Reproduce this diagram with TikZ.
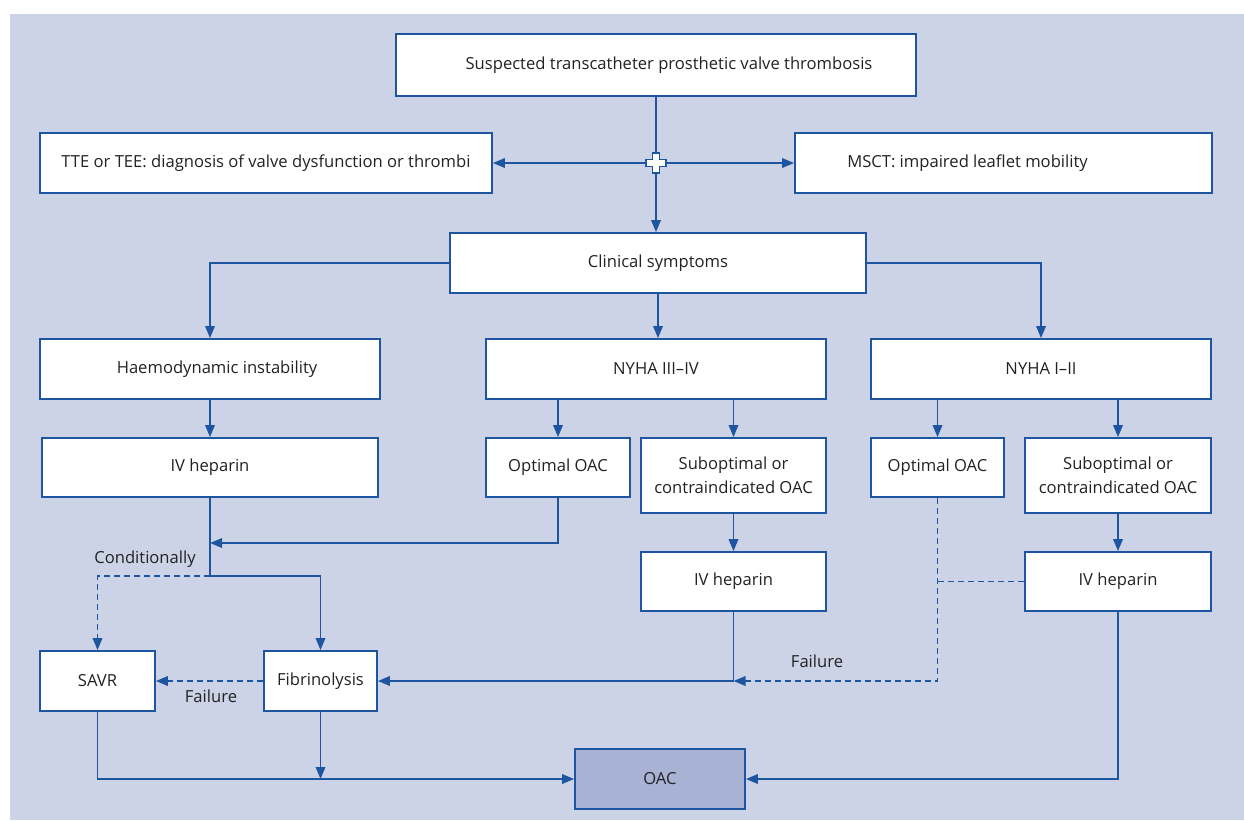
\documentclass[tikz,border=0pt]{standalone}
\usepackage{fontspec}
\setmainfont{Open Sans}
\usetikzlibrary{arrows.meta,calc}
\definecolor{bg}{HTML}{CDD3E7}
\definecolor{ln}{HTML}{1D55A0}
\definecolor{oacfill}{HTML}{A8B2D5}
\definecolor{txt}{HTML}{222222}
\begin{document}
\begin{tikzpicture}[x=1pt,y=-1pt,
  box/.style={draw=ln,line width=1.8pt,fill=white,inner sep=2pt,align=center,text=txt,font=\fontsize{16.6}{24}\selectfont},
  arr/.style={draw=ln,line width=1.8pt,-{Triangle[length=12pt,width=9.5pt]}},
  con/.style={draw=ln,line width=1.8pt},
  dsh/.style={dash pattern=on 6pt off 4pt},
  lbl/.style={text=txt,font=\fontsize{16.6}{18}\selectfont,inner sep=0pt}]
\useasboundingbox (0,0) rectangle (1244,820);
\fill[bg] (10,14) rectangle (1244,820);
% boxes
\node[box,minimum width=520pt,minimum height=62pt] (top) at (656,65) {\hspace*{26pt}\raisebox{-5pt}{Suspected transcatheter prosthetic valve thrombosis}};
\node[box,minimum width=452pt,minimum height=60pt] (tte) at (266,163) {TTE or TEE: diagnosis of valve dysfunction or thrombi};
\node[box,minimum width=417pt,minimum height=60pt] (msct) at (1003.5,163) {MSCT: impaired leaflet mobility\hspace*{72pt}};
\node[box,minimum width=416pt,minimum height=60pt] (clin) at (658,263) {Clinical symptoms};
\node[box,minimum width=340pt,minimum height=60pt] (haemo) at (210,369) {\hspace*{14pt}Haemodynamic instability};
\node[box,minimum width=340pt,minimum height=60pt] (nyha34) at (656,369) {NYHA III--IV};
\node[box,minimum width=340pt,minimum height=60pt] (nyha12) at (1041,369) {NYHA I--II};
\node[box,minimum width=336pt,minimum height=59pt] (ivh1) at (210,467.5) {IV heparin};
\node[box,minimum width=144pt,minimum height=59pt] (opt1) at (558,467.5) {Optimal OAC};
\node[box,minimum width=185pt,minimum height=75pt] (sub1) at (733.5,475.5) {Suboptimal or\\contraindicated OAC};
\node[box,minimum width=133pt,minimum height=59pt] (opt2) at (937.5,467.5) {Optimal OAC};
\node[box,minimum width=186pt,minimum height=75pt] (sub2) at (1118,475.5) {Suboptimal or\\contraindicated OAC};
\node[box,minimum width=185pt,minimum height=59pt] (ivh2) at (733.5,581.5) {IV heparin};
\node[box,minimum width=186pt,minimum height=59pt] (ivh3) at (1118,581.5) {IV heparin};
\node[box,minimum width=115pt,minimum height=60pt] (savr) at (97.5,681) {SAVR};
\node[box,minimum width=113pt,minimum height=60pt] (fib) at (320.5,681) {Fibrinolysis};
\node[box,fill=oacfill,minimum width=170pt,minimum height=60pt] (oac) at (660,779) {OAC};
% top connectors
\coordinate (cross) at (top.south |- tte.east);
\draw[arr] (top.south) -- (top.south |- clin.north);
\draw[arr] (cross) -- (tte.east);
\draw[arr] (cross) -- (msct.west);
\draw[ln,line width=1.5pt,fill=white]
  ($(cross)+(-3.5,-10)$) -- ++(7,0) -- ++(0,6.5) -- ++(6.5,0) -- ++(0,7) -- ++(-6.5,0) -- ++(0,6.5) -- ++(-7,0) -- ++(0,-6.5) -- ++(-6.5,0) -- ++(0,-7) -- ++(6.5,0) -- cycle;
% clinical symptoms
\draw[arr] (clin.west) -| (haemo.north);
\draw[arr] (clin.east) -| (nyha12.north);
\draw[arr] (clin.south) -- (clin.south |- nyha34.north);
% second level
\draw[arr] (haemo.south) -- (ivh1.north);
\draw[arr] (nyha34.south -| opt1.north) -- (opt1.north);
\draw[arr] (nyha34.south -| sub1.north) -- (sub1.north);
\draw[arr] (nyha12.south -| opt2.north) -- (opt2.north);
\draw[arr] (nyha12.south -| sub2.north) -- (sub2.north);
% left branch
\coordinate (j1) at (ivh1.south |- 0,576);
\coordinate (m1) at (ivh1.south |- 0,543);
\draw[con] (ivh1.south) -- (j1);
\draw[arr] (opt1.south) |- (m1);
\draw[arr,dsh] (j1) -| (savr.north);
\draw[arr] (j1) -| (fib.north);
\node[lbl] (cond) at (145,559) {Conditionally};
\draw[arr,dsh] (fib.west) -- (savr.east);
\node[lbl] (fail1) at (211,696) {Failure};
% middle branch
\draw[arr] (sub1.south) -- (ivh2.north);
\coordinate (j2) at (ivh2.south |- fib.east);
\draw[arr] (ivh2.south) |- (fib.east);
% right branch
\draw[arr] (sub2.south) -- (ivh3.north);
\draw[arr,dsh] (opt2.south) |- (j2);
\draw[con,dsh] (ivh3.west) -- (opt2.south |- ivh3.west);
\node[lbl] (fail2) at (817,661) {Failure};
% to OAC
\draw[arr] (ivh3.south) |- (oac.east);
\draw[arr] (savr.south) |- (oac.west);
\draw[arr] (fib.south) -- (fib.south |- oac.west);
\end{tikzpicture}
\end{document}
